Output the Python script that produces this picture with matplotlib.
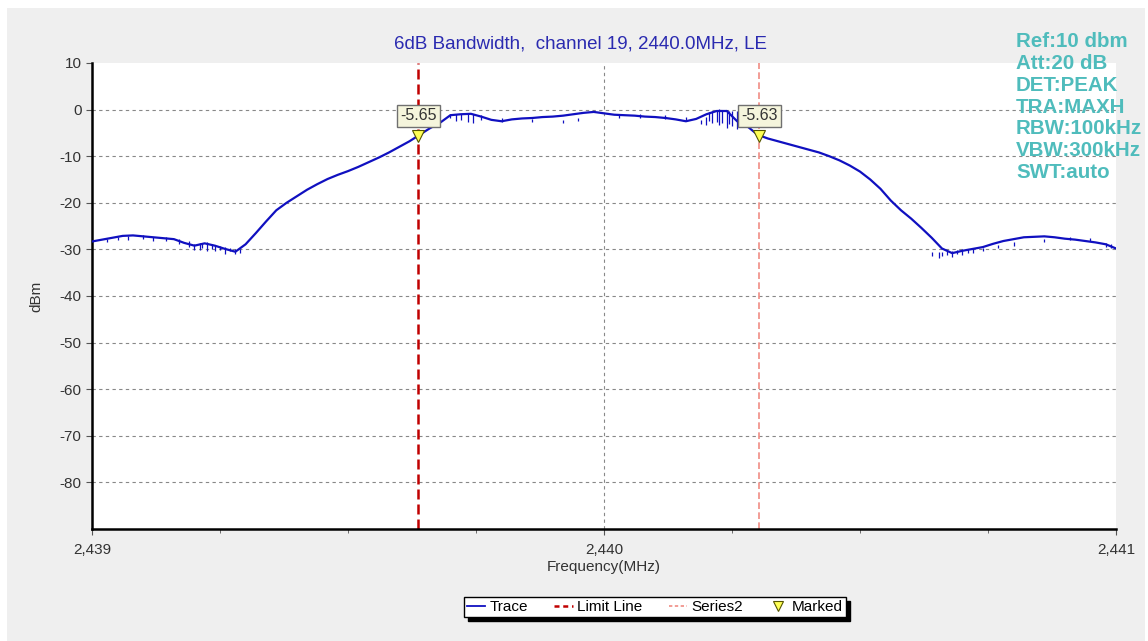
"""6dB bandwidth plot, channel 19 (2440 MHz, LE)"""

import numpy as np
import matplotlib
matplotlib.use("Agg")
import matplotlib.pyplot as plt
from matplotlib.patches import Rectangle
from matplotlib.ticker import FuncFormatter, MultipleLocator

plt.rcParams["font.family"] = ["Liberation Sans", "DejaVu Sans"]
plt.rcParams["axes.unicode_minus"] = False

freq = 2439.0 + 0.02 * np.arange(101)
trace = [
    -28.3, -27.9, -27.5, -27.1, -27.0, -27.2, -27.4, -27.6, -27.8, -28.6,
    -29.2, -28.7, -29.2, -29.9, -30.5, -28.9, -26.5, -24.0, -21.6, -20.0,
    -18.6, -17.2, -16.0, -14.9, -14.0, -13.2, -12.3, -11.3, -10.3, -9.2,
    -8.0, -6.8, -5.4, -4.0, -2.8, -1.2, -1.0, -0.9, -1.5, -2.2,
    -2.5, -2.1, -1.9, -1.8, -1.6, -1.5, -1.3, -1.0, -0.7, -0.5,
    -0.8, -1.1, -1.2, -1.3, -1.5, -1.6, -1.8, -2.1, -2.5, -2.0,
    -1.0, -0.3, -0.3, -2.5, -3.6, -5.4, -6.2, -6.8, -7.4, -8.0,
    -8.6, -9.2, -10.0, -10.9, -12.0, -13.3, -15.0, -17.0, -19.5, -21.6,
    -23.4, -25.4, -27.5, -29.8, -30.8, -30.3, -29.9, -29.5, -28.8, -28.2,
    -27.8, -27.4, -27.3, -27.2, -27.4, -27.7, -27.9, -28.2, -28.5, -28.9,
    -29.8,
]

# Noise spikes of the max-hold trace: frequency, top, bottom
spike_freq = [2439.03, 2439.05, 2439.07, 2439.10, 2439.12, 2439.145, 2439.17, 2439.19,
              2439.20, 2439.21, 2439.215, 2439.225, 2439.235, 2439.24, 2439.25, 2439.26,
              2439.27, 2439.28, 2439.29,
              2439.70, 2439.71, 2439.72, 2439.735, 2439.745, 2439.76, 2439.80, 2439.86,
              2439.92, 2439.95, 2440.03, 2440.07, 2440.12, 2440.16,
              2440.19, 2440.20, 2440.205, 2440.21, 2440.22, 2440.225, 2440.23, 2440.24,
              2440.245, 2440.25, 2440.26, 2440.27,
              2440.64, 2440.655, 2440.66, 2440.67, 2440.68, 2440.69, 2440.70, 2440.71,
              2440.72, 2440.74, 2440.77, 2440.80, 2440.86, 2440.91, 2440.95, 2440.98,
              2440.99]
spike_top = [-27.7, -27.4, -27.1, -27.0, -27.3, -27.3, -27.7, -28.3,
             -28.9, -28.6, -28.6, -28.4, -28.8, -29.0, -29.2, -29.4,
             -29.6, -29.9, -29.9,
             -1.0, -1.0, -1.0, -1.0, -0.9, -1.2, -1.9, -2.1,
             -2.2, -1.9, -1.1, -1.0, -1.2, -1.5,
             -2.2, -1.5, -0.6, -0.4, -0.2, 0.1, -0.1, 0.0,
             -0.2, -0.3, -0.4, -1.8,
             -30.5, -30.6, -30.5, -30.3, -30.3, -30.1, -30.0, -29.9,
             -29.8, -29.6, -29.0, -28.5, -27.8, -27.3, -27.5, -28.6,
             -28.8]
spike_bottom = [-28.4, -28.0, -28.0, -27.8, -28.2, -28.1, -28.8, -29.4,
                -30.1, -30.2, -29.6, -30.3, -30.0, -30.4, -30.1, -30.9,
                -30.3, -31.0, -30.7,
                -1.9, -2.4, -2.2, -2.6, -2.8, -2.3, -2.6, -2.7,
                -2.8, -2.5, -1.8, -1.9, -2.0, -2.2,
                -3.0, -3.2, -2.4, -2.9, -2.6, -3.4, -2.8, -3.9,
                -3.0, -3.5, -4.2, -3.4,
                -31.4, -31.8, -31.5, -31.3, -31.6, -31.0, -31.2, -30.8,
                -30.7, -30.4, -29.8, -29.3, -28.4, -27.9, -28.2, -29.4,
                -29.6]

# -6 dB markers
marker_freq = [2439.637, 2440.303]
marker_level = [-5.65, -5.63]
marker_text = ["-5.65", "-5.63"]

settings = ["Ref:10 dbm", "Att:20 dB", "DET:PEAK", "TRA:MAXH",
            "RBW:100kHz", "VBW:300kHz", "SWT:auto"]

fig = plt.figure(figsize=(11.48, 6.41), dpi=100, facecolor="white")
fig.patches.append(Rectangle((7 / 1148, 0.0), 1138 / 1148, 1 - 8 / 641,
                             transform=fig.transFigure, facecolor="#efefef",
                             edgecolor="none", zorder=-10))

ax = fig.add_axes([92 / 1148, 1 - 529 / 641, 1024 / 1148, 466 / 641])
ax.set_facecolor("white")

# grid
for lvl in range(0, -90, -10):
    ax.axhline(lvl, color="#888888", ls=(0, (3, 3)), lw=0.8, zorder=1)
ax.axvline(2440, color="#888888", ls=(0, (3, 3)), lw=0.8, zorder=1)

# limit lines
ax.axvline(marker_freq[0], color="#c00000", ls=(0, (4, 2)), lw=1.8, zorder=2)
ax.axvline(marker_freq[1], color="#f08c84", ls=(0, (4, 2)), lw=1.2, zorder=2)

# trace
ax.plot(freq, trace, color="#1010c0", lw=1.6, zorder=3)
ax.vlines(spike_freq, spike_bottom, spike_top, color="#1010c0", lw=0.9, zorder=3)

# markers + value boxes
ax.plot(marker_freq, marker_level, "v", color="#ffff55", mec="#555500",
        mew=0.8, ms=8, zorder=5)
for f, lvl, txt in zip(marker_freq, marker_level, marker_text):
    ax.annotate(txt, (f, lvl), xytext=(0, 20), textcoords="offset pixels",
                ha="center", va="center", fontsize=11.5, color="#333333",
                bbox=dict(boxstyle="square,pad=0.2", fc="#f5f5dc", ec="#707070", lw=1),
                zorder=6)

ax.set_xlim(2439, 2441)
ax.set_ylim(-90, 10)
ax.xaxis.set_major_locator(MultipleLocator(1))
ax.xaxis.set_minor_locator(MultipleLocator(0.25))
ax.xaxis.set_major_formatter(FuncFormatter(lambda v, p: "{:,.0f}".format(v)))
ax.set_yticks(range(-80, 11, 10))

for side in ["top", "right"]:
    ax.spines[side].set_visible(False)
for side in ["left", "bottom"]:
    ax.spines[side].set_linewidth(1.8)
ax.tick_params(axis="both", labelsize=11, labelcolor="#333333", color="#555555",
               length=4, width=0.8)
ax.tick_params(axis="x", which="minor", length=3, color="#555555")
ax.tick_params(axis="x", pad=6)

ax.set_xlabel("Frequency(MHz)", fontsize=11, color="#333333", labelpad=2)
ax.set_ylabel("dBm", fontsize=11, color="#333333", labelpad=12)

fig.text(580 / 1148, 1 - 44 / 641, "6dB Bandwidth,  channel 19, 2440.0MHz, LE",
         ha="center", va="center", fontsize=13.5, color="#2a2ab0")

fig.text(1016 / 1148, 1 - 32 / 641, "\n".join(settings), ha="left", va="top",
         fontsize=14.8, fontweight="bold", color="#4fbcbc", linespacing=1.19, zorder=10)

# legend
h_trace, = ax.plot([], [], color="#1010c0", lw=1.3)
h_limit, = ax.plot([], [], color="#c00000", ls=(0, (2, 1.5)), lw=1.8)
h_s2, = ax.plot([], [], color="#f08c84", ls=(0, (2, 1.5)), lw=1.2)
h_mark, = ax.plot([], [], "v", color="#ffff55", mec="#555500", mew=0.8, ms=7)
leg = fig.legend([h_trace, h_limit, h_s2, h_mark],
                 ["Trace", "Limit Line", "Series2", "Marked"],
                 loc="center", bbox_to_anchor=(655 / 1148, 1 - 607 / 641), ncol=4,
                 fontsize=11, frameon=True, fancybox=False,
                 shadow={"color": "black", "alpha": 1.0, "ox": 3, "oy": -3},
                 edgecolor="black", handlelength=1.2, handletextpad=0.3,
                 columnspacing=1.7, borderpad=0.2)
leg.get_frame().set_linewidth(1.0)

fig.savefig("out.png", dpi=100, facecolor=fig.get_facecolor())
